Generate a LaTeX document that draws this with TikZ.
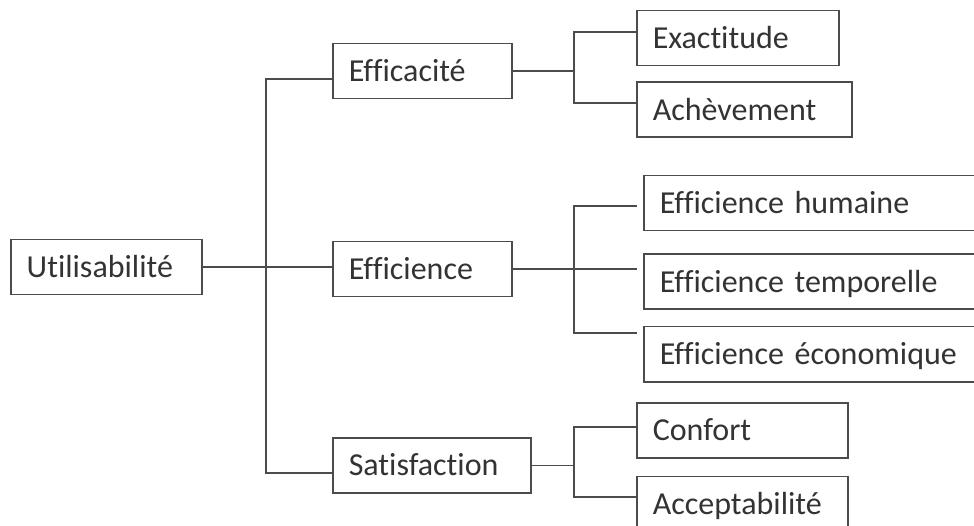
\documentclass[tikz,border=0pt]{standalone}
\usepackage{fontspec}
\setmainfont{Carlito}[Ligatures=CommonOff]
\usetikzlibrary{positioning}

\begin{document}
\begin{tikzpicture}[x=1pt, y=-1pt, line width=1.5pt, draw=black!70,
        box/.style = {draw=black!70, text=black!80, anchor=north west, align=left,
            inner xsep=16pt, minimum height=55pt, text height=21pt, text depth=0pt,
            font=\fontsize{32}{38}\selectfont}]
    \clip (0,0) rectangle (974,526);
    \fill[white] (0,0) rectangle (974,526);
    % first level
    \node[box, text width=159pt] (util) at (10,239) {Utilisabilité};
    \node[box, text width=147pt] (effa) at (332,43) {Efficacité};
    \node[box, text width=147pt] (effi) at (332,241) {Efficience};
    \node[box, text width=166pt] (sat) at (332,437) {Satisfaction};
    % second level
    \node[box, text width=170pt] (exa) at (636,10) {Exactitude};
    \node[box, below=15pt of exa.south west, anchor=north west, text width=183pt] (ach) {Achèvement};
    \node[box, text width=330pt] (hum) at (643,175) {Efficience humaine};
    \node[box, below=22pt of hum.south west, anchor=north west, text width=330pt] (tem) {Efficience temporelle};
    \node[box, below=16pt of tem.south west, anchor=north west, text width=330pt] (eco) {Efficience économique};
    \node[box, text width=179pt] (conf) at (636,402) {Confort};
    \node[box, below=17pt of conf.south west, anchor=north west, text width=179pt] (acc) {Acceptabilité};
    % junctions
    \coordinate (ja) at (266,79);
    \coordinate (jb) at (266,473);
    \coordinate (ka) at (574,32);
    \coordinate (kb) at (574,103);
    \coordinate (kc) at (574,206);
    \coordinate (kd) at (574,333);
    \coordinate (ke) at (574,427);
    \coordinate (kf) at (574,497);
    \coordinate (hc) at (637,206);
    \coordinate (tc) at (637,269);
    \coordinate (ec) at (637,333);
    % connectors
    \draw (util.east) -- (util.east -| effi.west);
    \draw (ja -| effa.west) -- (ja) -- (jb) -- (jb -| sat.west);
    \draw (effa.east) -- (effa.east -| ka);
    \draw (ka -| exa.west) -- (ka) -- (kb) -- (kb -| ach.west);
    \draw (effi.east) -- (effi.east -| tc);
    \draw (hc) -- (kc) -- (kd) -- (ec);
    \draw (sat.east) -- (sat.east -| ke);
    \draw (ke -| conf.west) -- (ke) -- (kf) -- (kf -| acc.west);
\end{tikzpicture}
\end{document}
